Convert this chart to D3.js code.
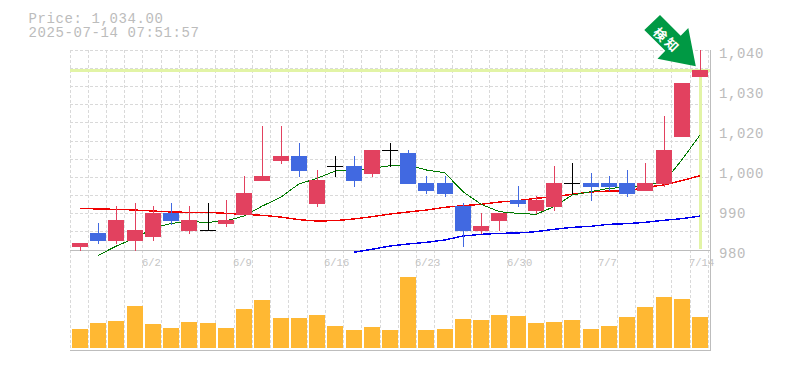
<!DOCTYPE html>
<html><head><meta charset="utf-8">
<script src="https://cdn.jsdelivr.net/npm/d3@7/dist/d3.min.js"></script>
<style>html,body{margin:0;padding:0;background:#fff}svg{display:block}text{font-family:"Liberation Mono",monospace}</style>
</head><body><svg id="c" width="785" height="370"></svg>
<script>
const open=[980.9,985.1,982.7,982.7,983.9,991.1,985.7,985.9,987.8,990.5,1000.7,1006.7,1008.2,993.8,1005.2,1005.2,1002.8,1010,1009.1,1000.1,1000.1,993.2,985.7,988.7,995,991.7,992.9,1000.1,1000.1,1000.1,1000.1,997.7,999.8,1013.9,1031.9];
const close=[982.1,982.7,989,986,991.1,988.7,989,985.9,989,997.1,1002.2,1008.2,1003.7,1001,1005.2,1000.7,1010,1010,999.8,997.7,996.8,985.7,987.2,991.1,993.8,995,1000.1,1000.1,998.9,998.9,996.8,1000.1,1010,1030.1,1034];
const high=[982.1,988.1,993.2,994.1,993.2,994.1,993.2,994.1,995,1002.2,1017.2,1017.2,1012.1,1004,1008.2,1008.2,1010,1012.1,1010,1002.2,1002.2,994.1,991.1,991.1,999.2,996.2,1005.2,1006.1,1003.1,1002.2,1004,1006.1,1020.2,1030.1,1040];
const low=[979.7,981.8,981.8,979.7,982.7,987.5,984.8,985.8,986.9,990.5,1000.7,1005.8,1001.9,992.9,1001.9,998.9,1001.9,1004.9,999.8,996.8,995.9,980.9,984.8,985.7,992.9,990.8,991.7,996.8,994.7,997.7,995.9,997.7,998.9,1013.9,1031.9];
const volume=[1900,2500,2700,4200,2400,2000,2600,2500,2000,3900,4800,3000,3000,3300,2200,1800,2100,1800,7100,1800,1900,2900,2800,3300,3200,2500,2600,2800,1900,2200,3100,4100,5100,4900,3100];
const maShort=[null,978.4,981.2,983.5,986.5,988,988.5,988.3,988.7,990.2,993.2,995.8,999.8,1001.5,1003.7,1004,1004.5,1005.3,1005.5,1004,1003.2,997.5,993.7,991.5,991,990.7,993,996.5,997.5,998.5,998.8,999.5,1000.2,1007,1014.5];
const maMid=[992.5,992.3,992.2,992,991.7,991.4,991.3,991.3,991,990.7,990.4,989.9,989.1,988.7,988.8,989.3,990,990.8,991.4,992,992.8,993.3,993.7,994.4,994.8,995.5,996,996.7,997.4,997.7,997.7,998.8,999.5,1000.8,1002.3];
const maLong=[null,null,null,null,null,null,null,null,null,null,null,null,null,null,null,979.3,980.2,981.2,981.8,982.3,983,984.2,984.7,985,985.1,985.5,986.2,986.8,987.1,987.7,987.9,988.3,988.9,989.4,990.2];
const xTickIndex=[4,9,14,19,24,29,34];
const xTickLabels=["6/2","6/9","6/16","6/23","6/30","7/7","7/14"];
const yTickLabels=["1,040","1,030","1,020","1,000","990","980"];
const titleLines=["Price: 1,034.00","2025-07-14 07:51:57"];
const currentPrice=1034;
const lastIndex=34;
const signalText=["検","知"];

const idx=d3.range(open.length);
const svg=d3.select("#c");
const x=d3.scalePoint().domain(idx).range([80,700]);
const cx=i=>Math.round(x(i));
const gridX=d3.scaleLinear().domain([0,35]).range([70.02,708.25]);
const y=d3.scaleLinear().domain([980,1040]).range([250,50]);
const vy=d3.scaleLinear().domain([0,7100]).range([348,277]);
const labelY=d3.scalePoint().domain(yTickLabels).range([53,253]);
const gridRow=d3.scaleLinear().domain([0,11]).range([50.1,250.1]);

const grid=svg.append("g").attr("stroke","#d9d9d9").attr("stroke-dasharray","3,2").attr("shape-rendering","crispEdges");
grid.selectAll(".v").data(d3.range(36)).join("line").attr("class","v")
 .attr("x1",d=>Math.floor(gridX(d))+.5).attr("x2",d=>Math.floor(gridX(d))+.5).attr("y1",50).attr("y2",350);
grid.selectAll(".h").data(d3.range(11)).join("line").attr("class","h")
 .attr("y1",d=>Math.floor(gridRow(d))+.5).attr("y2",d=>Math.floor(gridRow(d))+.5).attr("x1",70).attr("x2",710);

// current price guide
const guide="#e2f4a6";
svg.append("rect").attr("x",70).attr("width",640).attr("y",y(currentPrice)-1).attr("height",3).attr("fill",guide);
svg.append("rect").attr("x",cx(lastIndex)-1).attr("width",3).attr("y",y(currentPrice)).attr("height",179).attr("fill",guide);

// axes frame
const axisCol="#bdbdbd";
const fr=svg.append("g").attr("stroke",axisCol).attr("shape-rendering","crispEdges");
fr.append("line").attr("x1",70).attr("x2",710).attr("y1",250.5).attr("y2",250.5);
fr.append("line").attr("x1",70).attr("x2",711).attr("y1",350.5).attr("y2",350.5);
fr.append("line").attr("x1",710.5).attr("x2",710.5).attr("y1",50).attr("y2",351);

// moving averages
const line=d3.line().defined(d=>d!=null).x((d,i)=>x(i)).y(d=>y(d));
const lines=svg.append("g").attr("fill","none").attr("shape-rendering","crispEdges");
lines.append("path").attr("d",line(maLong)).attr("stroke","#0000ee").attr("stroke-width",1.4);
lines.append("path").attr("d",line(maMid)).attr("stroke","#f00000").attr("stroke-width",1.4);
lines.append("path").attr("d",line(maShort)).attr("stroke","#007a00").attr("stroke-width",1);

// candles
const col=i=>open[i]===close[i]?"#000":(close[i]>open[i]?"#e2415f":"#4169e1");
const candles=svg.append("g").attr("shape-rendering","crispEdges");
candles.selectAll(".w").data(idx).join("line").attr("class","w")
 .attr("x1",d=>cx(d)+.5).attr("x2",d=>cx(d)+.5).attr("y1",d=>y(high[d])).attr("y2",d=>y(low[d])).attr("stroke",col);
candles.selectAll(".b").data(idx).join("rect").attr("class","b")
 .attr("x",d=>cx(d)-8).attr("width",16)
 .attr("y",d=>y(Math.max(open[d],close[d])))
 .attr("height",d=>Math.max(1,Math.abs(y(open[d])-y(close[d]))))
 .attr("fill",col);

// volume
svg.append("g").selectAll("rect").data(idx).join("rect")
 .attr("x",d=>cx(d)-8).attr("width",16).attr("y",d=>vy(volume[d])).attr("height",d=>vy(0)-vy(volume[d]))
 .attr("fill","#ffb833").attr("shape-rendering","crispEdges");

// labels
svg.append("g").selectAll("text").data(titleLines).join("text")
 .attr("x",28.5).attr("y",(d,i)=>22.5+i*14.5).attr("font-size",14).attr("letter-spacing",0.6).attr("fill","#bcbcbc").text(d=>d);
svg.append("g").selectAll("text").data(yTickLabels).join("text")
 .attr("x",719).attr("y",d=>labelY(d)+4.5).attr("font-size",14).attr("letter-spacing",0.6).attr("fill","#bcbcbc").text(d=>d);
svg.append("g").selectAll("text").data(xTickLabels).join("text")
 .attr("x",(d,i)=>cx(xTickIndex[i])-11).attr("y",266).attr("font-size",10.5).attr("fill","#c4c4c4").text(d=>d);

// signal arrow
const tip=svg.append("g");
tip.append("polygon").attr("fill","#009944")
 .attr("points",[[660,15],[680.7,35.7],[688.3,28],[695.8,66.3],[657.5,58.8],[665.3,50.7],[644.3,30]].join(" "));
signalText.forEach((t,i)=>{
 tip.append("text").attr("transform",`translate(${660.7+i*11.6},${34+i*10.3}) rotate(45)`)
  .attr("text-anchor","middle").attr("dominant-baseline","central")
  .attr("font-size",13).attr("font-weight","700").attr("fill","#fff")
  .style("font-family",'"Noto Sans CJK JP",sans-serif').text(t);
});
</script></body></html>
